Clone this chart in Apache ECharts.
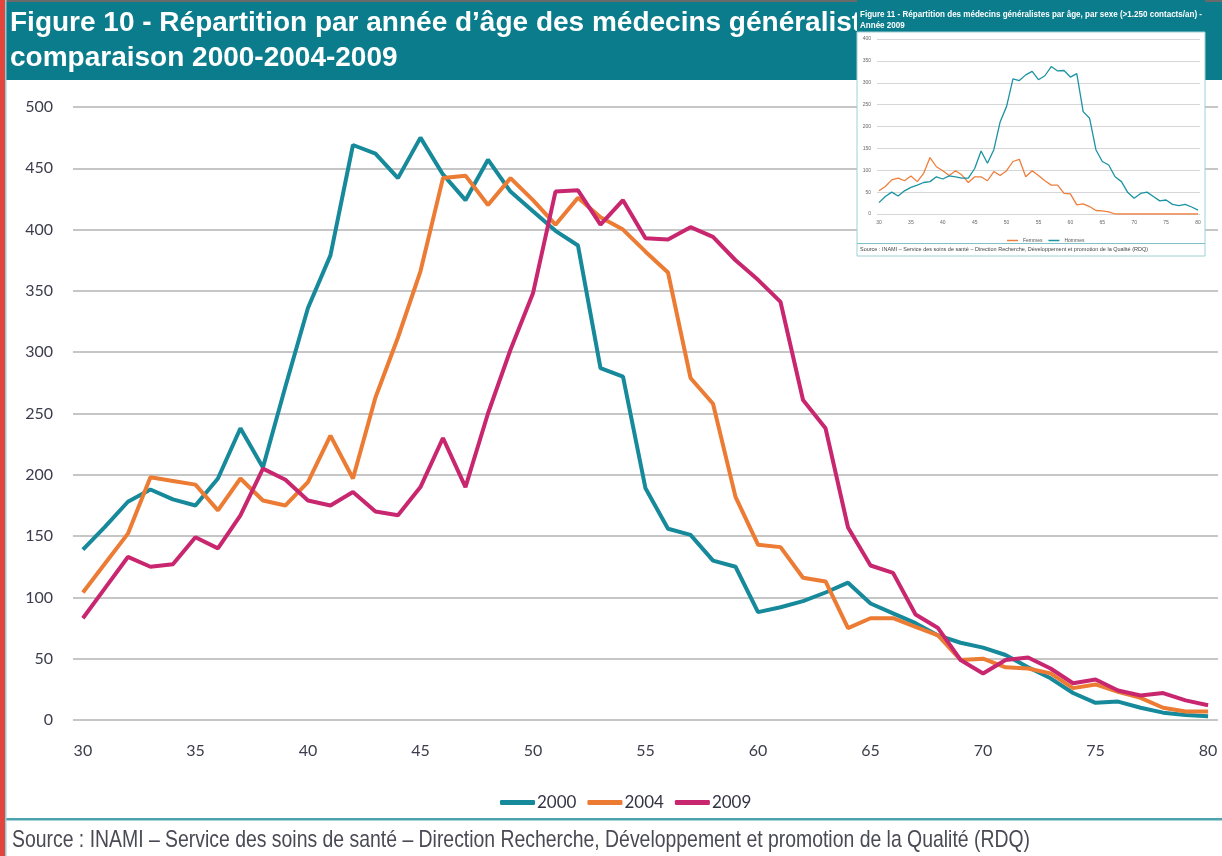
<!DOCTYPE html>
<html>
<head>
<meta charset="utf-8">
<script src="https://cdn.jsdelivr.net/npm/echarts@6/dist/echarts.min.js"></script>
<style>
  html, body { margin: 0; padding: 0; background: #fff; }
  #chart { width: 1222px; height: 856px; }
</style>
</head>
<body>
<div id="chart"></div>
<script>
// ages (x axis) and tick labels
var ages = [30, 31, 32, 33, 34, 35, 36, 37, 38, 39, 40, 41, 42, 43, 44, 45, 46, 47, 48, 49, 50,
  51, 52, 53, 54, 55, 56, 57, 58, 59, 60, 61, 62, 63, 64, 65, 66, 67, 68, 69, 70,
  71, 72, 73, 74, 75, 76, 77, 78, 79, 80];
var ageTicks = [30, 35, 40, 45, 50, 55, 60, 65, 70, 75, 80];

// Figure 10 : médecins généralistes par année d'âge
var v2000 = [139, 158, 178, 188, 180, 175, 197, 238, 206, 272, 336, 379, 469, 462, 442, 475, 445, 424, 457, 431, 415,
  399, 387, 287, 280, 189, 156, 151, 130, 125, 88, 92, 97, 104, 112, 95, 87, 79, 69, 63, 59,
  53, 43, 34, 22, 14, 15, 10, 6, 4, 3];
var v2004 = [104, 128, 152, 198, 195, 192, 171, 197, 179, 175, 194, 232, 197, 263, 312, 366, 442, 444, 420, 442, 424,
  404, 426, 410, 400, 382, 365, 279, 258, 182, 143, 141, 116, 113, 75, 83, 83, 76, 69, 49, 50,
  43, 42, 38, 26, 29, 23, 18, 10, 7, 7];
var v2009 = [83, 108, 133, 125, 127, 149, 140, 167, 205, 196, 179, 175, 186, 170, 167, 190, 230, 190, 250, 302, 348,
  431, 432, 404, 424, 393, 392, 402, 394, 375, 359, 341, 261, 238, 157, 126, 120, 86, 75, 49, 38,
  49, 51, 42, 30, 33, 24, 20, 22, 16, 12];

// Figure 11 (encart) : par sexe, année 2009
var femmes = [53, 63, 78, 82, 76, 87, 74, 93, 129, 108, 99, 88, 99, 89, 72, 85, 85, 76, 97, 88, 99,
  120, 125, 85, 99, 88, 76, 66, 66, 47, 46, 21, 23, 17, 8, 7, 5, 0, 0, 0, 0,
  0, 0, 0, 0, 0, 0, 0, 0, 0, 0];
var hommes = [26, 40, 50, 41, 53, 61, 66, 72, 74, 85, 80, 87, 85, 82, 82, 104, 144, 116, 147, 211, 246,
  309, 305, 318, 326, 307, 316, 337, 327, 328, 313, 321, 234, 219, 147, 120, 112, 85, 74, 49, 36,
  47, 50, 40, 30, 32, 22, 19, 22, 16, 9];

var TEAL = '#16899b', ORANGE = '#ec7b34', MAGENTA = '#c8276f', BANNER = '#0b7c8b';
var SANS = '"Liberation Sans", Arial, sans-serif';

function pairs(vals) {
  return ages.map(function (a, i) { return [a, vals[i]]; });
}

// measure text so condensed-looking texts can be squeezed to the reference width
var mctx = document.createElement('canvas').getContext('2d');
function fit(text, font, width) {
  mctx.font = font;
  return width / mctx.measureText(text).width;
}

var title1 = 'Figure 10 - Répartition par année d’âge des médecins généralistes –';
var title2 = 'comparaison 2000-2004-2009';
var source = 'Source : INAMI – Service des soins de santé – Direction Recherche, Développement et promotion de la Qualité (RDQ)';
var insetTitle1 = 'Figure 11 - Répartition des médecins généralistes par âge, par sexe (>1.250 contacts/an) -';
var insetTitle2 = 'Année 2009';

var titleFont = 'bold 28px ' + SANS;
var sourceFont = '24px ' + SANS;
var insetTitleFont = 'bold 9px ' + SANS;
var insetSourceFont = '6px ' + SANS;
var sSource = fit(source, sourceFont, 1018);
var sInset = fit(insetTitle1, insetTitleFont, 342);
var sInsetSrc = fit(source, insetSourceFont, 288);

var chart = echarts.init(document.getElementById('chart'));

var option = {
  backgroundColor: '#ffffff',
  animation: false,
  legend: [
    {
      data: ['2000', '2004', '2009'],
      left: 495,
      top: 789,
      icon: 'roundRect',
      itemWidth: 35,
      itemHeight: 5,
      itemGap: 11,
      textStyle: { fontFamily: 'Lato', fontSize: 17, color: '#333344', padding: [0, 0, 0, -3] }
    },
    {
      data: ['Femmes', 'Hommes'],
      left: 1002,
      top: 233,
      z: 6,
      icon: 'rect',
      itemWidth: 11,
      itemHeight: 1.5,
      itemGap: 6,
      textStyle: { fontFamily: SANS, fontSize: 5, color: '#555' }
    }
  ],
  grid: [
    { left: 73, right: 4, top: 107, bottom: 136 },
    { left: 877, right: 22, top: 39, bottom: 642, z: 4 }
  ],
  xAxis: [
    {
      type: 'value',
      gridIndex: 0,
      min: 29.56,
      max: 80.44,
      axisLine: { show: false },
      axisTick: { show: false },
      splitLine: { show: false },
      axisLabel: {
        customValues: ageTicks,
        margin: 23,
        fontFamily: 'Lato',
        fontSize: 16,
        color: '#3c3c4c'
      }
    },
    {
      type: 'value',
      gridIndex: 1,
      z: 4,
      min: 29.69,
      max: 80.31,
      axisLine: { show: false },
      axisTick: { show: false },
      splitLine: { show: false },
      axisLabel: {
        customValues: ageTicks,
        margin: 6,
        fontFamily: SANS,
        fontSize: 5,
        color: '#666'
      }
    }
  ],
  yAxis: [
    {
      type: 'value',
      gridIndex: 0,
      min: 0,
      max: 500,
      interval: 50,
      axisLine: { show: false },
      axisTick: { show: false },
      splitLine: { lineStyle: { color: '#c6c6c6', width: 2 } },
      axisLabel: {
        margin: 20,
        fontFamily: 'Lato',
        fontSize: 16,
        color: '#3c3c4c'
      }
    },
    {
      type: 'value',
      gridIndex: 1,
      z: 4,
      min: 0,
      max: 400,
      interval: 50,
      axisLine: { show: false },
      axisTick: { show: false },
      splitLine: { lineStyle: { color: '#c4c4c4', width: 0.7 } },
      axisLabel: {
        margin: 6,
        fontFamily: SANS,
        fontSize: 5,
        color: '#666'
      }
    }
  ],
  series: [
    { name: '2000', type: 'line', data: pairs(v2000), color: TEAL, symbol: 'none', lineStyle: { width: 4 } },
    { name: '2004', type: 'line', data: pairs(v2004), color: ORANGE, symbol: 'none', lineStyle: { width: 4 } },
    { name: '2009', type: 'line', data: pairs(v2009), color: MAGENTA, symbol: 'none', lineStyle: { width: 4 } },
    { name: 'Femmes', type: 'line', xAxisIndex: 1, yAxisIndex: 1, z: 5, data: pairs(femmes), color: '#ef7d3c', symbol: 'none', lineStyle: { width: 1.3 } },
    { name: 'Hommes', type: 'line', xAxisIndex: 1, yAxisIndex: 1, z: 5, data: pairs(hommes), color: '#1a93a3', symbol: 'none', lineStyle: { width: 1.3 } }
  ],
  graphic: [
    // banner
    { type: 'rect', z: 1, shape: { x: 0, y: 0, width: 1222, height: 80 }, style: { fill: BANNER } },
    { type: 'rect', z: 1, shape: { x: 0, y: 0, width: 1222, height: 2 }, style: { fill: '#6a6a6a' } },
    { type: 'text', z: 1, x: 10, y: 23, style: { text: title1, font: titleFont, fill: '#ffffff', verticalAlign: 'middle', textVerticalAlign: 'middle' } },
    { type: 'text', z: 1, x: 10, y: 58, style: { text: title2, font: titleFont, fill: '#ffffff', verticalAlign: 'middle', textVerticalAlign: 'middle' } },
    // left stripe
    { type: 'rect', z: 10, shape: { x: 0, y: 0, width: 5, height: 856 }, style: { fill: '#e3453c' } },
    { type: 'rect', z: 10, shape: { x: 5, y: 0, width: 1.5, height: 856 }, style: { fill: '#8fd0d8' } },
    // source
    { type: 'rect', z: 1, shape: { x: 0, y: 818, width: 1222, height: 2.5 }, style: { fill: '#4ea3af' } },
    { type: 'text', z: 1, x: 12, y: 840, scaleX: sSource, style: { text: source, font: sourceFont, fill: '#4a4a55', verticalAlign: 'middle', textVerticalAlign: 'middle' } },
    // inset panel (Figure 11)
    { type: 'rect', z: 3, shape: { x: 857, y: 0, width: 348, height: 32 }, style: { fill: BANNER } },
    { type: 'rect', z: 3, shape: { x: 857, y: 32, width: 348, height: 224 }, style: { fill: '#ffffff', stroke: '#9fd0d7', lineWidth: 1 } },
    { type: 'text', z: 4, x: 860, y: 15, scaleX: sInset, style: { text: insetTitle1, font: insetTitleFont, fill: '#ffffff', verticalAlign: 'middle', textVerticalAlign: 'middle' } },
    { type: 'text', z: 4, x: 860, y: 26, scaleX: sInset, style: { text: insetTitle2, font: insetTitleFont, fill: '#ffffff', verticalAlign: 'middle', textVerticalAlign: 'middle' } },
    { type: 'rect', z: 4, shape: { x: 857, y: 243, width: 348, height: 1 }, style: { fill: '#7fc0c9' } },
    { type: 'text', z: 4, x: 860, y: 249, scaleX: sInsetSrc, style: { text: source, font: insetSourceFont, fill: '#444', verticalAlign: 'middle', textVerticalAlign: 'middle' } }
  ]
};

chart.setOption(option);
</script>
</body>
</html>
